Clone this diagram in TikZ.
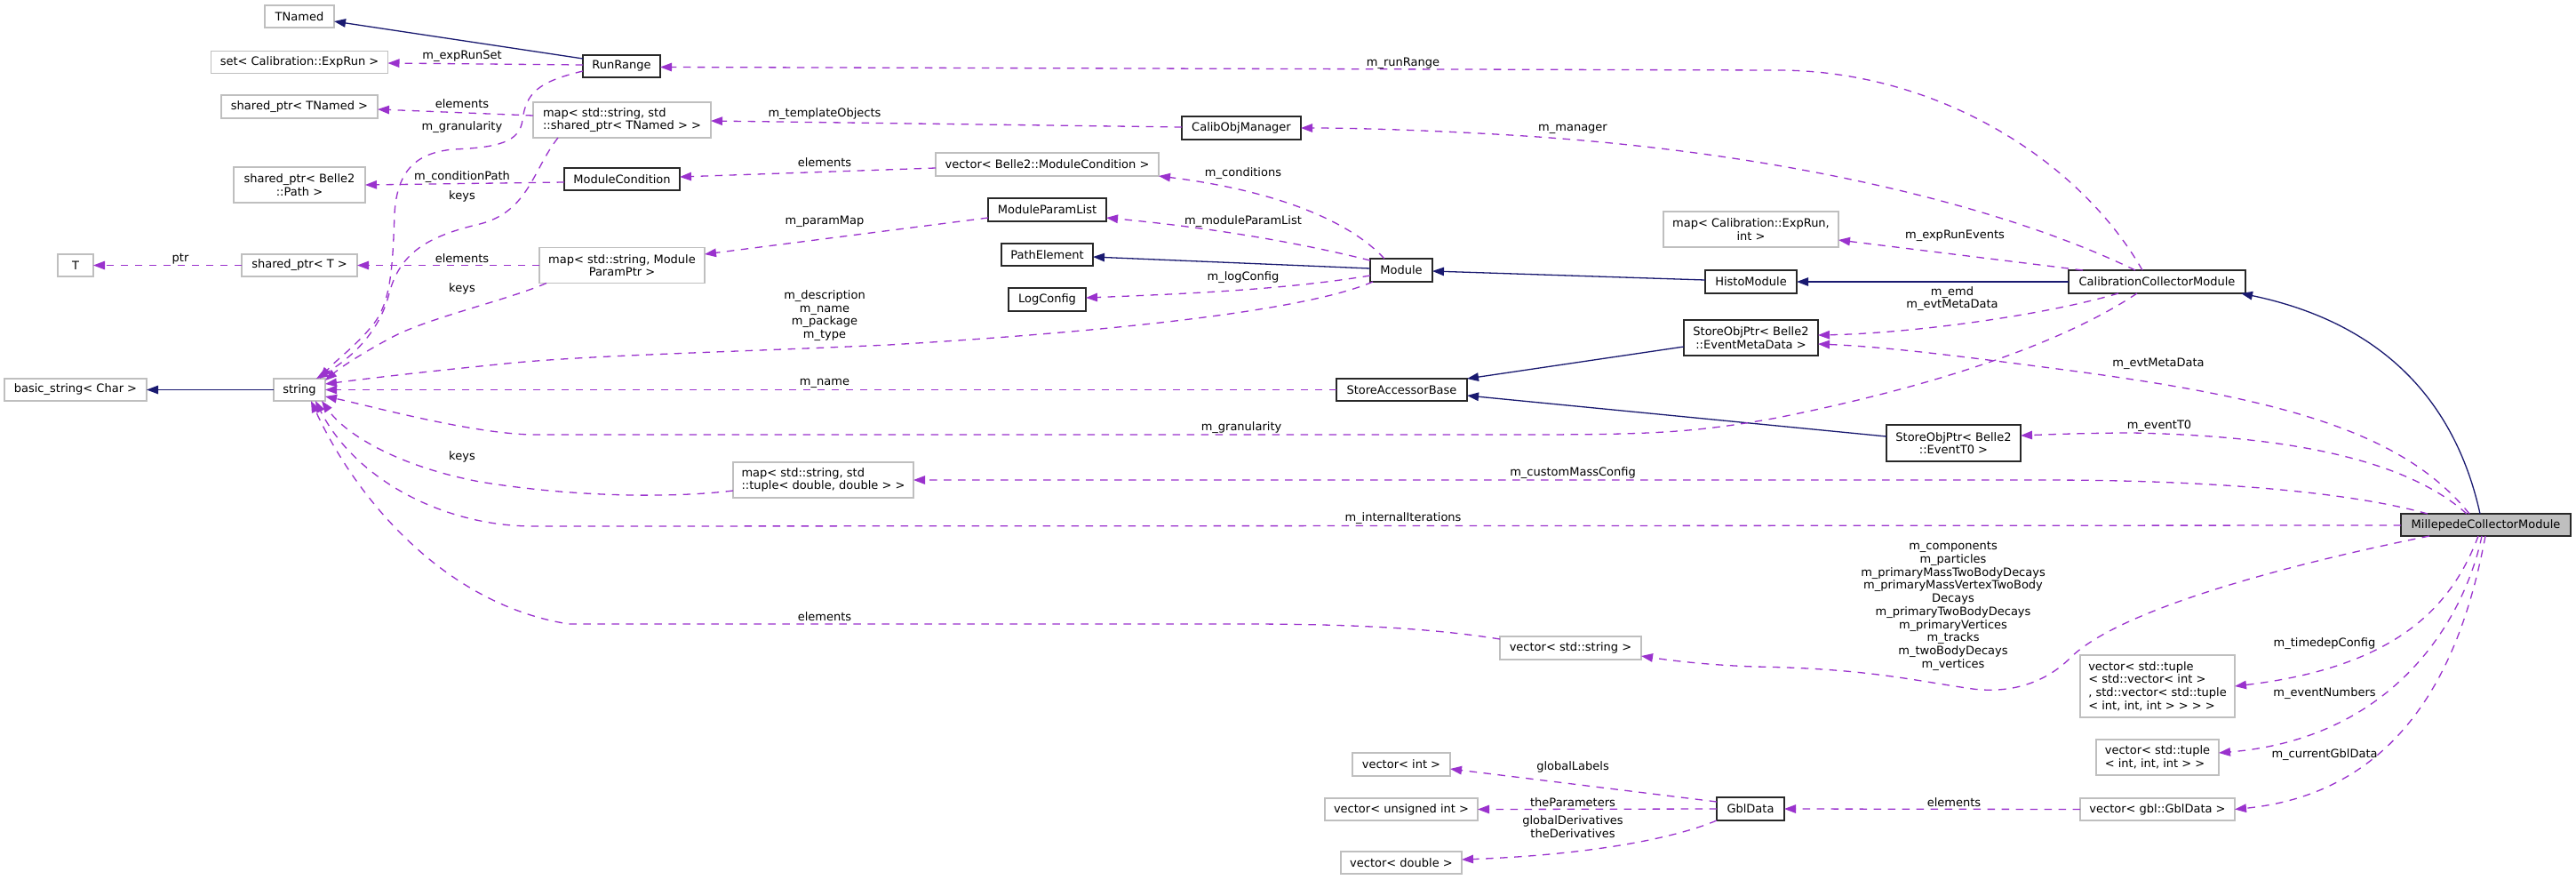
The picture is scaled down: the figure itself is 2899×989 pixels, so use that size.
\documentclass[tikz,border=0pt]{standalone}
\usepackage{fontspec}
\setmainfont{DejaVu Sans}
\usetikzlibrary{arrows.meta,calc}
\definecolor{purp}{RGB}{154,50,205}
\definecolor{mblue}{RGB}{25,25,112}
\definecolor{gframe}{RGB}{191,191,191}
\definecolor{dframe}{RGB}{40,40,40}
\definecolor{cfill}{RGB}{191,191,191}
\tikzset{
  sz/.style n args={2}{minimum width=#1, minimum height=#2},
  gbox/.style={draw=gframe, line width=1.3pt, fill=white, align=center},
  dbox/.style={draw=dframe, line width=1.5pt, fill=white, align=center},
  cbox/.style={draw=dframe, line width=1.5pt, fill=cfill, align=center},
  useedge/.style={draw=purp, line width=1.3pt, dash pattern=on 8.5pt off 7.5pt, -{Triangle[length=13pt,width=9.5pt]}},
  inhedge/.style={draw=mblue, line width=1.3pt, -{Triangle[length=13pt,width=9.5pt]}},
  lbl/.style={align=center, text=black}
}
\begin{document}
\begin{tikzpicture}[x=1pt,y=-1pt,
  every node/.style={font=\fontsize{13}{14.7}\selectfont, inner sep=0pt, outer sep=0pt}]
\fill[white] (0,0) rectangle (2899,989);
\path[use as bounding box] (0,0) rectangle (2899,989);

% ---------------- nodes ----------------
\node[gbox, sz={78pt}{25pt}] (tnamed) at (337,18.5) {TNamed};
\node[gbox, sz={199pt}{25pt}] (setexp) at (337,70) {set< Calibration::ExpRun >};
\node[dbox, sz={87pt}{25pt}] (rr) at (699.5,74.5) {RunRange};
\node[gbox, sz={176pt}{26pt}] (sptn) at (337,120) {shared\_ptr< TNamed >};
\node[gbox, sz={200pt}{40pt}, align=left] (maptn) at (700,135) {map< std::string, std\\::shared\_ptr< TNamed > >};
\node[gbox, sz={148pt}{40pt}] (sppath) at (337,208) {shared\_ptr< Belle2\\::Path >};
\node[dbox, sz={130pt}{25pt}] (modcond) at (700,201.5) {ModuleCondition};
\node[gbox, sz={40pt}{25pt}] (tT) at (85,298.5) {T};
\node[gbox, sz={130pt}{25pt}] (spT) at (337,298.5) {shared\_ptr< T >};
\node[gbox, sz={186pt}{40pt}] (mapmpp) at (700,298.5) {map< std::string, Module\\ParamPtr >};
\node[gbox, sz={160pt}{25pt}] (bstr) at (85,438.5) {basic\_string< Char >};
\node[gbox, sz={58pt}{25pt}] (str) at (337,438.5) {string};
\node[dbox, sz={134pt}{26pt}] (com) at (1397,144) {CalibObjManager};
\node[gbox, sz={251pt}{26pt}] (vmc) at (1178.5,185) {vector< Belle2::ModuleCondition >};
\node[dbox, sz={133pt}{26pt}] (mpl) at (1178.5,236) {ModuleParamList};
\node[dbox, sz={103pt}{25pt}] (pe) at (1178.5,286.5) {PathElement};
\node[dbox, sz={87pt}{26pt}] (lc) at (1178.5,337) {LogConfig};
\node[dbox, sz={70pt}{26pt}] (mod) at (1577,304) {Module};
\node[gbox, sz={197pt}{40pt}] (mapexp) at (1970.5,258) {map< Calibration::ExpRun,\\int >};
\node[dbox, sz={103pt}{26pt}] (histo) at (1970.5,317) {HistoModule};
\node[dbox, sz={199pt}{26pt}] (ccm) at (2427.5,317) {CalibrationCollectorModule};
\node[dbox, sz={151pt}{40pt}] (emd) at (1970.5,380) {StoreObjPtr< Belle2\\::EventMetaData >};
\node[dbox, sz={147pt}{25pt}] (sab) at (1577.5,438.5) {StoreAccessorBase};
\node[dbox, sz={151pt}{41pt}] (t0) at (2198.5,498.5) {StoreObjPtr< Belle2\\::EventT0 >};
\node[gbox, sz={203pt}{40pt}, align=left] (mtup) at (926.5,540) {map< std::string, std\\::tuple< double, double > >};
\node[cbox, sz={191pt}{25pt}] (mill) at (2797.5,590.5) {MillepedeCollectorModule};
\node[gbox, sz={159pt}{26pt}] (vstr) at (1767.5,729) {vector< std::string >};
\node[gbox, sz={174pt}{70pt}, align=left] (vtd) at (2428,772) {vector< std::tuple\\< std::vector< int >\\, std::vector< std::tuple\\< int, int, int > > > >};
\node[gbox, sz={138pt}{40pt}, align=left] (vtup) at (2428,852) {vector< std::tuple\\< int, int, int > >};
\node[gbox, sz={174pt}{25pt}] (vgbl) at (2428,910.5) {vector< gbl::GblData >};
\node[dbox, sz={76pt}{26pt}] (gbl) at (1970,910) {GblData};
\node[gbox, sz={110pt}{26pt}] (vint) at (1577,860) {vector< int >};
\node[gbox, sz={172pt}{25pt}] (vuint) at (1577,910.5) {vector< unsigned int >};
\node[gbox, sz={136pt}{25pt}] (vdbl) at (1577,970.5) {vector< double >};

% ---------------- inheritance edges ----------------
\draw[inhedge] ($(rr.west)+(0,-8.5)$) -- ($(tnamed.east)+(0,5.5)$);
\draw[inhedge] (str.west) -- (bstr.east);
\draw[inhedge] ($(mod.west)+(0,-2)$) -- ($(pe.east)+(0,2.5)$);
\draw[inhedge] ($(histo.west)+(0,-2)$) -- ($(mod.east)+(0,1)$);
\draw[inhedge] (ccm.west) -- (histo.east);
\draw[inhedge] ($(emd.west)+(0,10)$) -- (sab.north east);
\draw[inhedge] ($(t0.west)+(0,-7.5)$) -- ($(sab.east)+(0,6.5)$);
\draw[inhedge] ($(mill.north)+(-6.5,0)$) .. controls (2765,460) and (2690,365) .. ($(ccm.south east)+(-5,0)$);

% ---------------- usage edges ----------------
\draw[useedge] ($(rr.west)+(0,-1.5)$) -- ($(setexp.east)+(0,1)$);
\draw[useedge] ($(rr.west)+(0,5.5)$) .. controls (605,92) and (592,105) .. (588,135)
  .. controls (585,160) and (560,166) .. (510,168)
  .. controls (468,172) and (447,192) .. (444,240)
  .. controls (442,300) and (440,340) .. (420,365)
  .. controls (400,390) and (378,405) .. ($(str.north)+(23,0)$);
\draw[useedge] ($(maptn.west)+(0,-5)$) -- ($(sptn.east)+(0,3)$);
\draw[useedge] ($(maptn.south west)+(28,0)$) .. controls (600,190) and (595,238) .. (540,252)
  .. controls (480,266) and (450,285) .. (438,330)
  .. controls (428,370) and (400,400) .. ($(str.north)+(19,0)$);
\draw[useedge] ($(modcond.west)+(0,3.5)$) -- (sppath.east);
\draw[useedge] (mapmpp.west) -- (spT.east);
\draw[useedge] ($(mapmpp.south west)+(8,0)$) .. controls (570,338) and (480,358) .. (440,380)
  .. controls (410,396) and (385,412) .. ($(str.north east)+(0,2)$);
\draw[useedge] (spT.west) -- (tT.east);
\draw[useedge] ($(com.west)+(0,-1)$) -- ($(maptn.east)+(0,1)$);
\draw[useedge] ($(vmc.west)+(0,4)$) -- ($(modcond.east)+(0,-2.5)$);
\draw[useedge] ($(mpl.west)+(0,9)$) -- ($(mapmpp.east)+(0,-12.5)$);
\draw[useedge] ($(mod.north)+(-19,0)$) .. controls (1520,250) and (1440,215) .. (vmc.south east);
\draw[useedge] ($(mod.west)+(0,-11)$) .. controls (1450,270) and (1350,255) .. ($(mpl.east)+(0,9)$);
\draw[useedge] ($(mod.west)+(0,6)$) .. controls (1450,325) and (1350,330) .. ($(lc.east)+(0,-2)$);
\draw[useedge] ($(mod.south west)+(3,0)$) .. controls (1480,345) and (1300,370) .. (1000,388)
  .. controls (800,397) and (650,400) .. (560,410)
  .. controls (480,418) and (420,425) .. ($(str.east)+(0,-6.5)$);
\draw[useedge] ($(ccm.north west)+(83,0)$) .. controls (2340,180) and (2180,79) .. (2000,79)
  -- ($(rr.east)+(0,1)$);
\draw[useedge] ($(ccm.north west)+(75,0)$) .. controls (2250,230) and (2000,170) .. (1700,152)
  .. controls (1600,146) and (1520,144) .. (com.east);
\draw[useedge] ($(ccm.north west)+(16,0)$) -- ($(mapexp.east)+(0,12)$);
\draw[useedge] ($(ccm.south west)+(56,0)$) .. controls (2300,355) and (2150,375) .. ($(emd.east)+(0,-3)$);
\draw[useedge] ($(ccm.south west)+(77,0)$) .. controls (2330,380) and (2200,430) .. (2000,470)
  .. controls (1900,488) and (1850,489) .. (1700,489) -- (600,489)
  .. controls (530,488) and (410,455) .. ($(str.east)+(0,7.5)$);
\draw[useedge] (sab.west) -- (str.east);
\draw[useedge] ($(mill.north)+(-18.5,0)$) .. controls (2700,480) and (2550,445) .. (2300,413)
  .. controls (2200,400) and (2120,390) .. ($(emd.east)+(0,7)$);
\draw[useedge] ($(mill.north)+(-21.5,0)$) .. controls (2700,510) and (2550,490) .. (2400,487)
  .. controls (2350,487) and (2300,489) .. ($(t0.east)+(0,-8.5)$);
\draw[useedge] ($(mill.north west)+(30,0)$) .. controls (2650,555) and (2500,540) .. (2300,540)
  -- (mtup.east);
\draw[useedge] ($(mill.west)+(0,0.5)$) -- (600,592)
  .. controls (500,592) and (400,540) .. ($(str.south)+(18,0)$);
\draw[useedge] ($(mtup.west)+(0,12)$) .. controls (760,560) and (650,560) .. (540,542)
  .. controls (450,525) and (390,490) .. ($(str.south east)+(-4,0)$);
\draw[useedge] ($(mill.south west)+(32,0)$) .. controls (2550,640) and (2380,690) .. (2330,740)
  .. controls (2300,770) and (2260,780) .. (2220,775)
  .. controls (2150,765) and (2100,752) .. (1974,750)
  .. controls (1920,748) and (1880,743) .. ($(vstr.east)+(0,9)$);
\draw[useedge] ($(vstr.west)+(0,-10)$) .. controls (1600,705) and (1500,702) .. (1400,702)
  -- (640,702) .. controls (500,680) and (400,560) .. ($(str.south)+(13,0)$);
\draw[useedge] ($(mill.south)+(-8.5,0)$) .. controls (2760,680) and (2700,750) .. (vtd.east);
\draw[useedge] ($(mill.south)+(-4.5,0)$) .. controls (2775,690) and (2700,830) .. ($(vtup.east)+(0,-5)$);
\draw[useedge] ($(mill.south)+(-0.5,0)$) .. controls (2775,720) and (2720,890) .. (vgbl.east);
\draw[useedge] (vgbl.west) -- (gbl.east);
\draw[useedge] ($(gbl.west)+(0,-8)$) -- ($(vint.east)+(0,5)$);
\draw[useedge] (gbl.west) -- (vuint.east);
\draw[useedge] (gbl.south west) .. controls (1880,945) and (1780,962) .. ($(vdbl.east)+(0,-3.5)$);

% ---------------- labels ----------------
\node[lbl] (l1) at (520,63) {m\_expRunSet};
\node[lbl] (l2) at (520,117) {elements};
\node[lbl] (l3) at (520,143) {m\_granularity};
\node[lbl] (l4) at (520,199) {m\_conditionPath};
\node[lbl] (l5) at (520,221) {keys};
\node[lbl] (l6) at (203,291) {ptr};
\node[lbl] (l7) at (520,291) {elements};
\node[lbl] (l8) at (520,325) {keys};
\node[lbl] (l9) at (520,514) {keys};
\node[lbl] (l10) at (928,128) {m\_templateObjects};
\node[lbl] (l11) at (928,183) {elements};
\node[lbl] (l12) at (928,249) {m\_paramMap};
\node[lbl] (l13) at (1399,195) {m\_conditions};
\node[lbl] (l14) at (1399,249) {m\_moduleParamList};
\node[lbl] (l15) at (1399,312) {m\_logConfig};
\node[lbl] (l16) at (928,355) {m\_description\\m\_name\\m\_package\\m\_type};
\node[lbl] (l17) at (928,431) {m\_name};
\node[lbl] (l18) at (1397,481) {m\_granularity};
\node[lbl] (l19) at (1770,532) {m\_customMassConfig};
\node[lbl] (l20) at (1579,583) {m\_internalIterations};
\node[lbl] (l21) at (928,694) {elements};
\node[lbl] (l22) at (1579,71) {m\_runRange};
\node[lbl] (l23) at (1770,145) {m\_manager};
\node[lbl] (l24) at (2200,265) {m\_expRunEvents};
\node[lbl] (l25) at (2197,336) {m\_emd\\m\_evtMetaData};
\node[lbl] (l26) at (2429,409) {m\_evtMetaData};
\node[lbl] (l27) at (2430,479) {m\_eventT0};
\node[lbl] (l28) at (2198,682) {m\_components\\m\_particles\\m\_primaryMassTwoBodyDecays\\m\_primaryMassVertexTwoBody\\Decays\\m\_primaryTwoBodyDecays\\m\_primaryVertices\\m\_tracks\\m\_twoBodyDecays\\m\_vertices};
\node[lbl] (l29) at (2616,724) {m\_timedepConfig};
\node[lbl] (l30) at (2616,780) {m\_eventNumbers};
\node[lbl] (l31) at (2616,849) {m\_currentGblData};
\node[lbl] (l32) at (2199,903) {elements};
\node[lbl] (l33) at (1770,863) {globalLabels};
\node[lbl] (l34) at (1770,903) {theParameters};
\node[lbl] (l35) at (1770,930) {globalDerivatives\\theDerivatives};
\end{tikzpicture}
\end{document}
